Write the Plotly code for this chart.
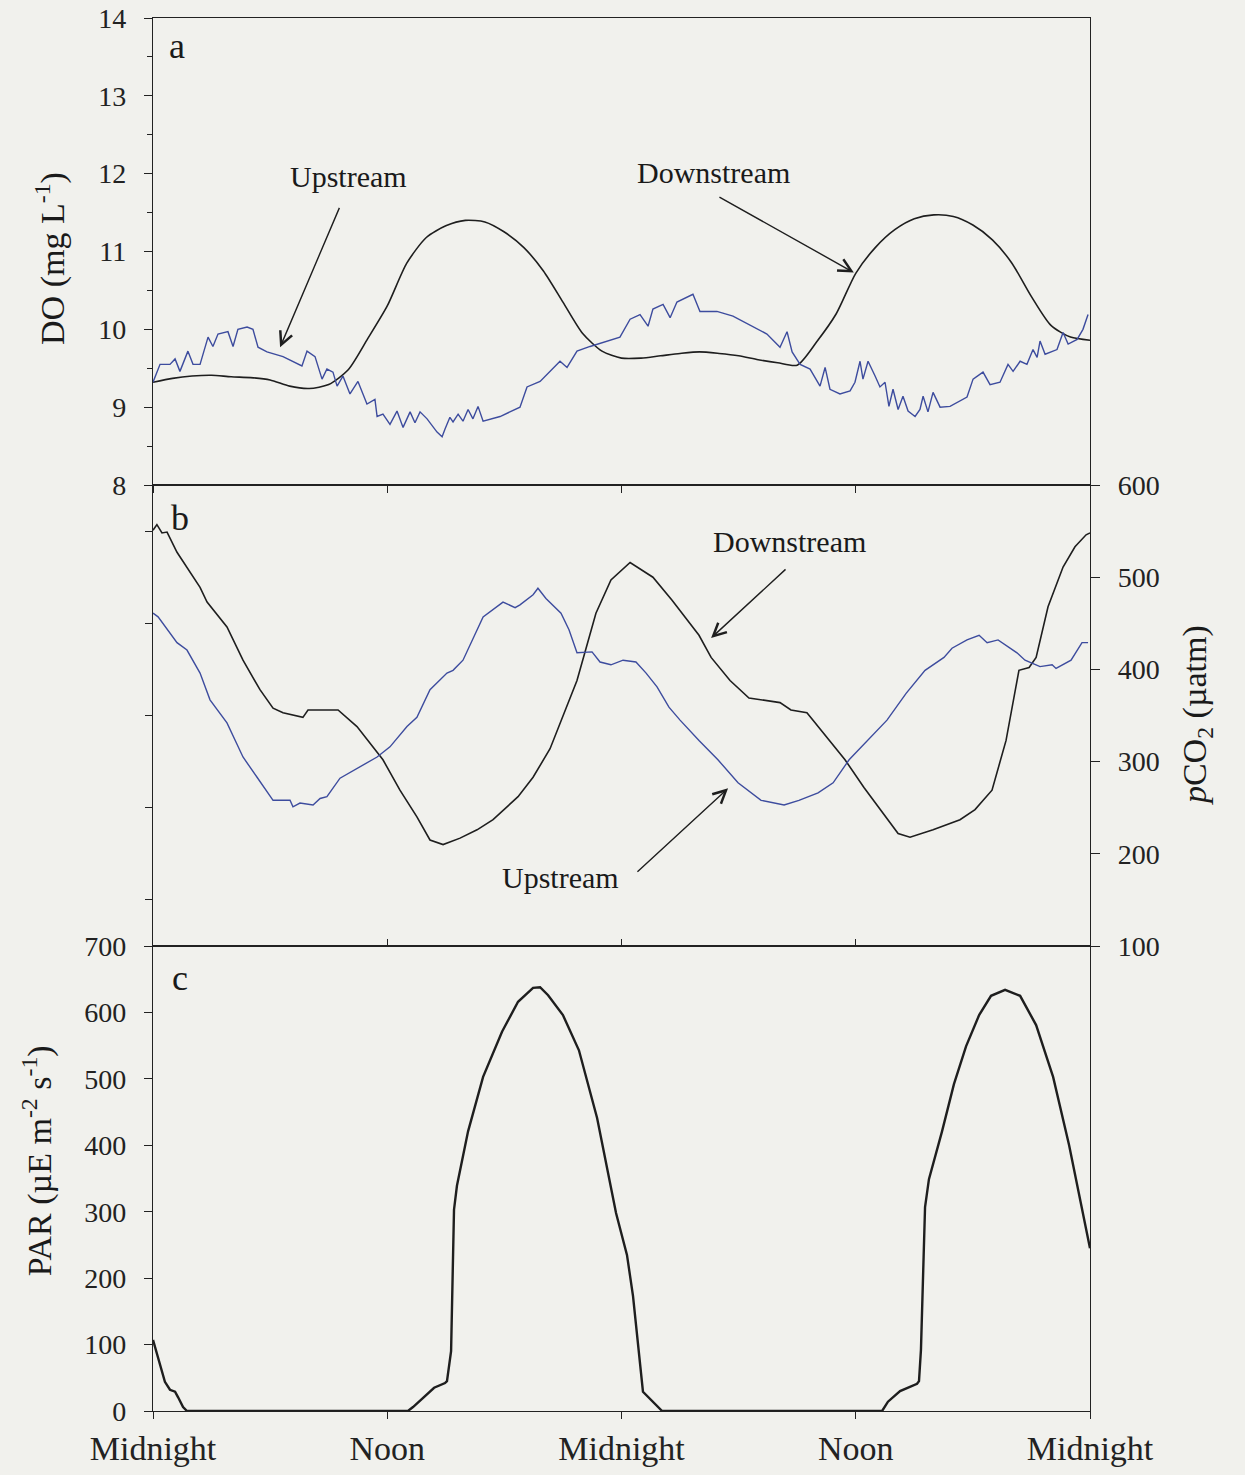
import plotly.graph_objects as go

# ---------------- data (hours since first midnight) ----------------
TICK_HOURS = [0, 12, 24, 36, 48]
TICK_TEXT = ["Midnight", "Noon", "Midnight", "Noon", "Midnight"]

# Panel a: dissolved oxygen (mg/L)
do_down_h = list(range(49))
do_down = [9.32, 9.37, 9.40, 9.41, 9.39, 9.38, 9.35, 9.27, 9.24, 9.29,
           9.48, 9.88, 10.30, 10.85, 11.18, 11.33, 11.40, 11.38, 11.25, 11.05,
           10.75, 10.35, 9.95, 9.72, 9.63, 9.63, 9.66, 9.69, 9.71, 9.69,
           9.66, 9.61, 9.57, 9.54, 9.84, 10.20, 10.72, 11.05, 11.28, 11.42,
           11.47, 11.45, 11.34, 11.15, 10.85, 10.42, 10.05, 9.90, 9.86]

do_up_h = [0.0, 0.36, 0.87, 1.13, 1.38, 1.79, 2.05, 2.41, 2.82, 3.07,
           3.33, 3.84, 4.10, 4.35, 4.82, 5.12, 5.38, 5.84, 6.66, 7.17,
           7.63, 7.89, 8.30, 8.66, 8.91, 9.22, 9.43, 9.73, 10.09, 10.50,
           10.96, 11.37, 11.48, 11.78, 12.14, 12.50, 12.81, 13.17, 13.42, 13.68,
           14.04, 14.55, 14.81, 14.96, 15.21, 15.37, 15.63, 15.88, 16.14, 16.39,
           16.65, 16.91, 17.78, 18.80, 19.16, 19.83, 20.85, 21.21, 21.72, 22.39,
           23.26, 23.92, 24.44, 24.95, 25.36, 25.61, 26.13, 26.49, 26.84, 27.66,
           28.02, 28.89, 29.71, 30.58, 31.45, 32.12, 32.48, 32.74, 33.15, 33.66,
           34.17, 34.43, 34.68, 35.19, 35.71, 35.96, 36.22, 36.37, 36.63, 36.99,
           37.24, 37.50, 37.70, 37.91, 38.17, 38.42, 38.68, 39.04, 39.29, 39.45,
           39.70, 39.96, 40.32, 40.83, 41.19, 41.70, 42.01, 42.52, 42.88, 43.39,
           43.80, 44.06, 44.42, 44.77, 45.08, 45.29, 45.44, 45.70, 46.31, 46.62,
           46.88, 47.34, 47.64, 47.90]
do_up = [9.32, 9.55, 9.55, 9.62, 9.46, 9.72, 9.55, 9.55, 9.90, 9.78,
         9.94, 9.97, 9.78, 10.00, 10.03, 10.00, 9.77, 9.71, 9.65, 9.59,
         9.53, 9.72, 9.65, 9.36, 9.49, 9.45, 9.27, 9.40, 9.17, 9.33,
         9.04, 9.10, 8.88, 8.91, 8.78, 8.95, 8.74, 8.94, 8.80, 8.94,
         8.85, 8.68, 8.62, 8.72, 8.87, 8.81, 8.91, 8.82, 8.97, 8.85,
         9.01, 8.82, 8.88, 9.00, 9.26, 9.33, 9.59, 9.51, 9.72, 9.78,
         9.85, 9.90, 10.13, 10.19, 10.04, 10.26, 10.32, 10.15, 10.35, 10.45,
         10.23, 10.23, 10.17, 10.06, 9.94, 9.77, 9.97, 9.71, 9.55, 9.49,
         9.27, 9.51, 9.23, 9.17, 9.21, 9.32, 9.59, 9.36, 9.59, 9.40,
         9.26, 9.32, 9.01, 9.23, 8.97, 9.14, 8.95, 8.88, 8.97, 9.14,
         8.94, 9.19, 9.00, 9.01, 9.06, 9.13, 9.36, 9.45, 9.29, 9.32,
         9.55, 9.46, 9.59, 9.55, 9.74, 9.64, 9.85, 9.68, 9.74, 9.96,
         9.81, 9.87, 10.00, 10.19]

# Panel b: pCO2 (uatm)
pco2_down_h = [0.0, 0.2, 0.46, 0.72, 1.23, 2.41, 2.77, 3.79, 4.61, 5.48,
               6.15, 6.66, 7.68, 7.94, 9.22, 9.48, 10.45, 11.27, 11.78, 12.65,
               13.52, 14.19, 14.86, 15.73, 16.60, 17.42, 17.78, 18.70, 19.47, 20.34,
               21.72, 22.69, 23.46, 24.44, 25.61, 26.59, 27.97, 28.59, 29.56, 30.53,
               32.12, 32.68, 33.50, 34.48, 35.45, 36.42, 37.40, 38.17, 38.78, 39.96,
               41.34, 42.11, 42.98, 43.70, 44.36, 44.88, 45.24, 45.85, 46.62, 47.23,
               47.80, 48.0]
pco2_down = [551, 557, 548, 549, 527, 489, 473, 446, 410, 378,
             358, 353, 348, 356, 356, 356, 338, 316, 302, 269,
             240, 215, 210, 217, 226, 237, 244, 262, 283, 314,
             388, 461, 497, 516, 500, 475, 437, 413, 388, 369,
             364, 356, 353, 327, 302, 272, 244, 222, 218, 226,
             237, 248, 269, 323, 399, 402, 413, 468, 511, 533,
             546, 548]

pco2_up_h = [0.0, 0.26, 1.23, 1.74, 2.41, 2.92, 3.79, 4.61, 5.33, 6.15,
             7.02, 7.17, 7.53, 8.20, 8.56, 8.91, 9.58, 10.60, 11.48, 12.14,
             13.01, 13.52, 14.19, 15.06, 15.37, 15.88, 16.91, 17.93, 18.55, 18.80,
             19.47, 19.72, 20.13, 20.90, 21.31, 21.72, 22.49, 22.90, 23.46, 24.08,
             24.74, 25.26, 25.82, 26.43, 27.00, 27.97, 28.94, 29.97, 31.15, 32.33,
             33.09, 34.07, 34.84, 35.66, 36.63, 37.60, 38.58, 39.55, 40.52, 40.93,
             41.70, 42.32, 42.73, 43.29, 44.26, 44.67, 45.44, 46.06, 46.26, 47.03,
             47.59, 47.90]
pco2_up = [461, 457, 429, 421, 396, 367, 342, 305, 283, 258,
           258, 251, 255, 253, 260, 262, 282, 294, 305, 316,
           338, 348, 378, 396, 399, 410, 457, 473, 467, 470,
           481, 488, 477, 461, 443, 418, 419, 408, 405, 410,
           408, 396, 381, 359, 345, 323, 302, 277, 258, 253,
           258, 266, 277, 302, 323, 345, 374, 399, 413, 423,
           432, 437, 429, 432, 418, 410, 403, 405, 401, 410,
           429, 429]

# Panel c: PAR (uE m-2 s-1)
par_h = [0.0, 0.36, 0.61, 0.87, 1.13, 1.28, 1.54, 1.74, 13.06, 13.32,
         13.83, 14.40, 14.96, 15.06, 15.27, 15.42, 15.57, 16.14, 16.91, 17.88,
         18.70, 19.47, 19.83, 20.24, 21.00, 21.82, 22.75, 23.72, 24.28, 24.59,
         25.10, 25.41, 26.08, 37.35, 37.65, 38.27, 39.14, 39.24, 39.34, 39.55,
         39.75, 40.42, 41.03, 41.65, 42.32, 42.93, 43.65, 44.42, 45.24, 46.11,
         46.93, 48.0]
par = [107, 72, 44, 32, 29, 21, 6, 0, 0, 6,
       20, 35, 42, 45, 90, 303, 339, 421, 503, 571,
       616, 637, 638, 626, 596, 543, 441, 298, 235, 173,
       29, 20, 0, 0, 14, 30, 41, 45, 92, 307,
       349, 421, 492, 549, 596, 625, 634, 625, 581, 503,
       400, 245]

# ---------------- styling ----------------
FONT = "Liberation Serif"
BLACK = "#1e1e1e"
BLUE = "#3d4c9e"
BG = "#f1f1ed"
AX = "#222222"

fig = go.Figure()
fig.add_trace(go.Scatter(x=do_down_h, y=do_down, mode="lines", xaxis="x", yaxis="y",
                         line=dict(color=BLACK, width=1.6, shape="spline", smoothing=0.7),
                         showlegend=False, name="Downstream DO"))
fig.add_trace(go.Scatter(x=do_up_h, y=do_up, mode="lines", xaxis="x", yaxis="y",
                         line=dict(color=BLUE, width=1.4), showlegend=False, name="Upstream DO"))
fig.add_trace(go.Scatter(x=pco2_down_h, y=pco2_down, mode="lines", xaxis="x2", yaxis="y2",
                         line=dict(color=BLACK, width=1.6), showlegend=False, name="Downstream pCO2"))
fig.add_trace(go.Scatter(x=pco2_up_h, y=pco2_up, mode="lines", xaxis="x2", yaxis="y2",
                         line=dict(color=BLUE, width=1.4), showlegend=False, name="Upstream pCO2"))
fig.add_trace(go.Scatter(x=[None], y=[None], mode="lines", xaxis="x2", yaxis="y4",
                         showlegend=False, hoverinfo="skip"))
fig.add_trace(go.Scatter(x=par_h, y=par, mode="lines", xaxis="x3", yaxis="y3",
                         line=dict(color=BLACK, width=2.4), showlegend=False, name="PAR"))

D_C = [0.0, 0.33381]
D_B = [0.33381, 0.66475]
D_A = [0.66475, 1.0]

xcommon = dict(range=[0, 48], tickvals=TICK_HOURS, ticktext=TICK_TEXT, showgrid=False,
               zeroline=False, showline=True, linecolor=AX, linewidth=1.3,
               tickcolor=AX, tickwidth=1.3, ticklen=7, automargin=False)
ycommon = dict(showgrid=False, zeroline=False, showline=True, linecolor=AX, linewidth=1.3,
               tickcolor=AX, tickwidth=1.3, automargin=False,
               tickfont=dict(family=FONT, size=28, color="#222"))

fig.update_layout(
    width=1245, height=1475,
    margin=dict(l=153, r=155, t=18, b=64, autoexpand=False),
    paper_bgcolor=BG, plot_bgcolor=BG,
    font=dict(family=FONT, color="#222"),
    xaxis=dict(**xcommon, anchor="y", ticks="outside", mirror=True, showticklabels=False),
    xaxis2=dict(**xcommon, anchor="y2", ticks="inside", mirror="ticks", showticklabels=False),
    xaxis3=dict(**xcommon, anchor="y3", ticks="outside", mirror=True, showticklabels=True,
                tickfont=dict(family=FONT, size=34, color="#222"), ticklabelstandoff=0),
    yaxis=dict(**ycommon, domain=D_A, anchor="x", range=[8, 14], dtick=1, ticks="outside",
               ticklen=8, mirror=True, ticklabelstandoff=12,
               minor=dict(dtick=0.5, ticks="outside", ticklen=5, tickcolor=AX, tickwidth=1.2)),
    yaxis2=dict(**ycommon, domain=D_B, anchor="x2", side="right", range=[100, 600],
                tickvals=[100, 200, 300, 400, 500, 600], ticks="outside", ticklen=9,
                mirror=True, ticklabelstandoff=12),
    yaxis4=dict(showgrid=False, zeroline=False, showline=False, overlaying="y2", side="left",
                anchor="x2", range=[0, 5], tickvals=[0.5, 1.5, 2.5, 3.5, 4.5], ticks="outside",
                ticklen=7, tickcolor=AX, tickwidth=1.3, showticklabels=False, automargin=False),
    yaxis3=dict(**ycommon, domain=D_C, anchor="x3", range=[0, 700], dtick=100, ticks="outside",
                ticklen=8, mirror=True, ticklabelstandoff=12),
)

ann_font = dict(family=FONT, size=30, color="#1a1a1a")
label_font = dict(family=FONT, size=36, color="#1a1a1a")
title_font = dict(family=FONT, size=34, color="#1a1a1a")

annotations = [
    # panel letters
    dict(x=1.23, y=13.64, xref="x", yref="y", text="a", showarrow=False, font=label_font),
    dict(x=1.38, y=564, xref="x2", yref="y2", text="b", showarrow=False, font=label_font),
    dict(x=1.38, y=652, xref="x3", yref="y3", text="c", showarrow=False, font=label_font),
    # panel a labels
    dict(x=9.99, y=11.96, xref="x", yref="y", text="Upstream", showarrow=False, font=ann_font),
    dict(x=28.7, y=12.01, xref="x", yref="y", text="Downstream", showarrow=False, font=ann_font),
    dict(x=6.51, y=9.77, ax=9.58, ay=11.58, xref="x", yref="y", axref="x", ayref="y",
         text="", showarrow=True, arrowhead=5, arrowsize=1.8, arrowwidth=1.4, arrowcolor=BLACK),
    dict(x=35.9, y=10.73, ax=28.94, ay=11.71, xref="x", yref="y", axref="x", ayref="y",
         text="", showarrow=True, arrowhead=5, arrowsize=1.8, arrowwidth=1.4, arrowcolor=BLACK),
    # panel b labels
    dict(x=32.63, y=539, xref="x2", yref="y2", text="Downstream", showarrow=False, font=ann_font),
    dict(x=20.9, y=174, xref="x2", yref="y2", text="Upstream", showarrow=False, font=ann_font),
    dict(x=28.59, y=434, ax=32.48, ay=510, xref="x2", yref="y2", axref="x2", ayref="y2",
         text="", showarrow=True, arrowhead=5, arrowsize=1.8, arrowwidth=1.4, arrowcolor=BLACK),
    dict(x=29.46, y=271, ax=24.74, ay=179, xref="x2", yref="y2", axref="x2", ayref="y2",
         text="", showarrow=True, arrowhead=5, arrowsize=1.8, arrowwidth=1.4, arrowcolor=BLACK),
    # axis titles
    dict(x=-0.110, y=0.8277, xref="paper", yref="paper", text="DO (mg L<sup>-1</sup>)",
         textangle=-90, showarrow=False, font=title_font, xanchor="center", yanchor="middle"),
    dict(x=-0.1238, y=0.180, xref="paper", yref="paper",
         text="PAR (µE m<sup>-2</sup> s<sup>-1</sup>)",
         textangle=-90, showarrow=False, font=title_font, xanchor="center", yanchor="middle"),
    dict(x=1.1142, y=0.4996, xref="paper", yref="paper",
         text="<i>p</i>CO<sub>2</sub> (µatm)",
         textangle=-90, showarrow=False, font=title_font, xanchor="center", yanchor="middle"),
]
fig.update_layout(annotations=annotations)

fig.write_html("out.html")
